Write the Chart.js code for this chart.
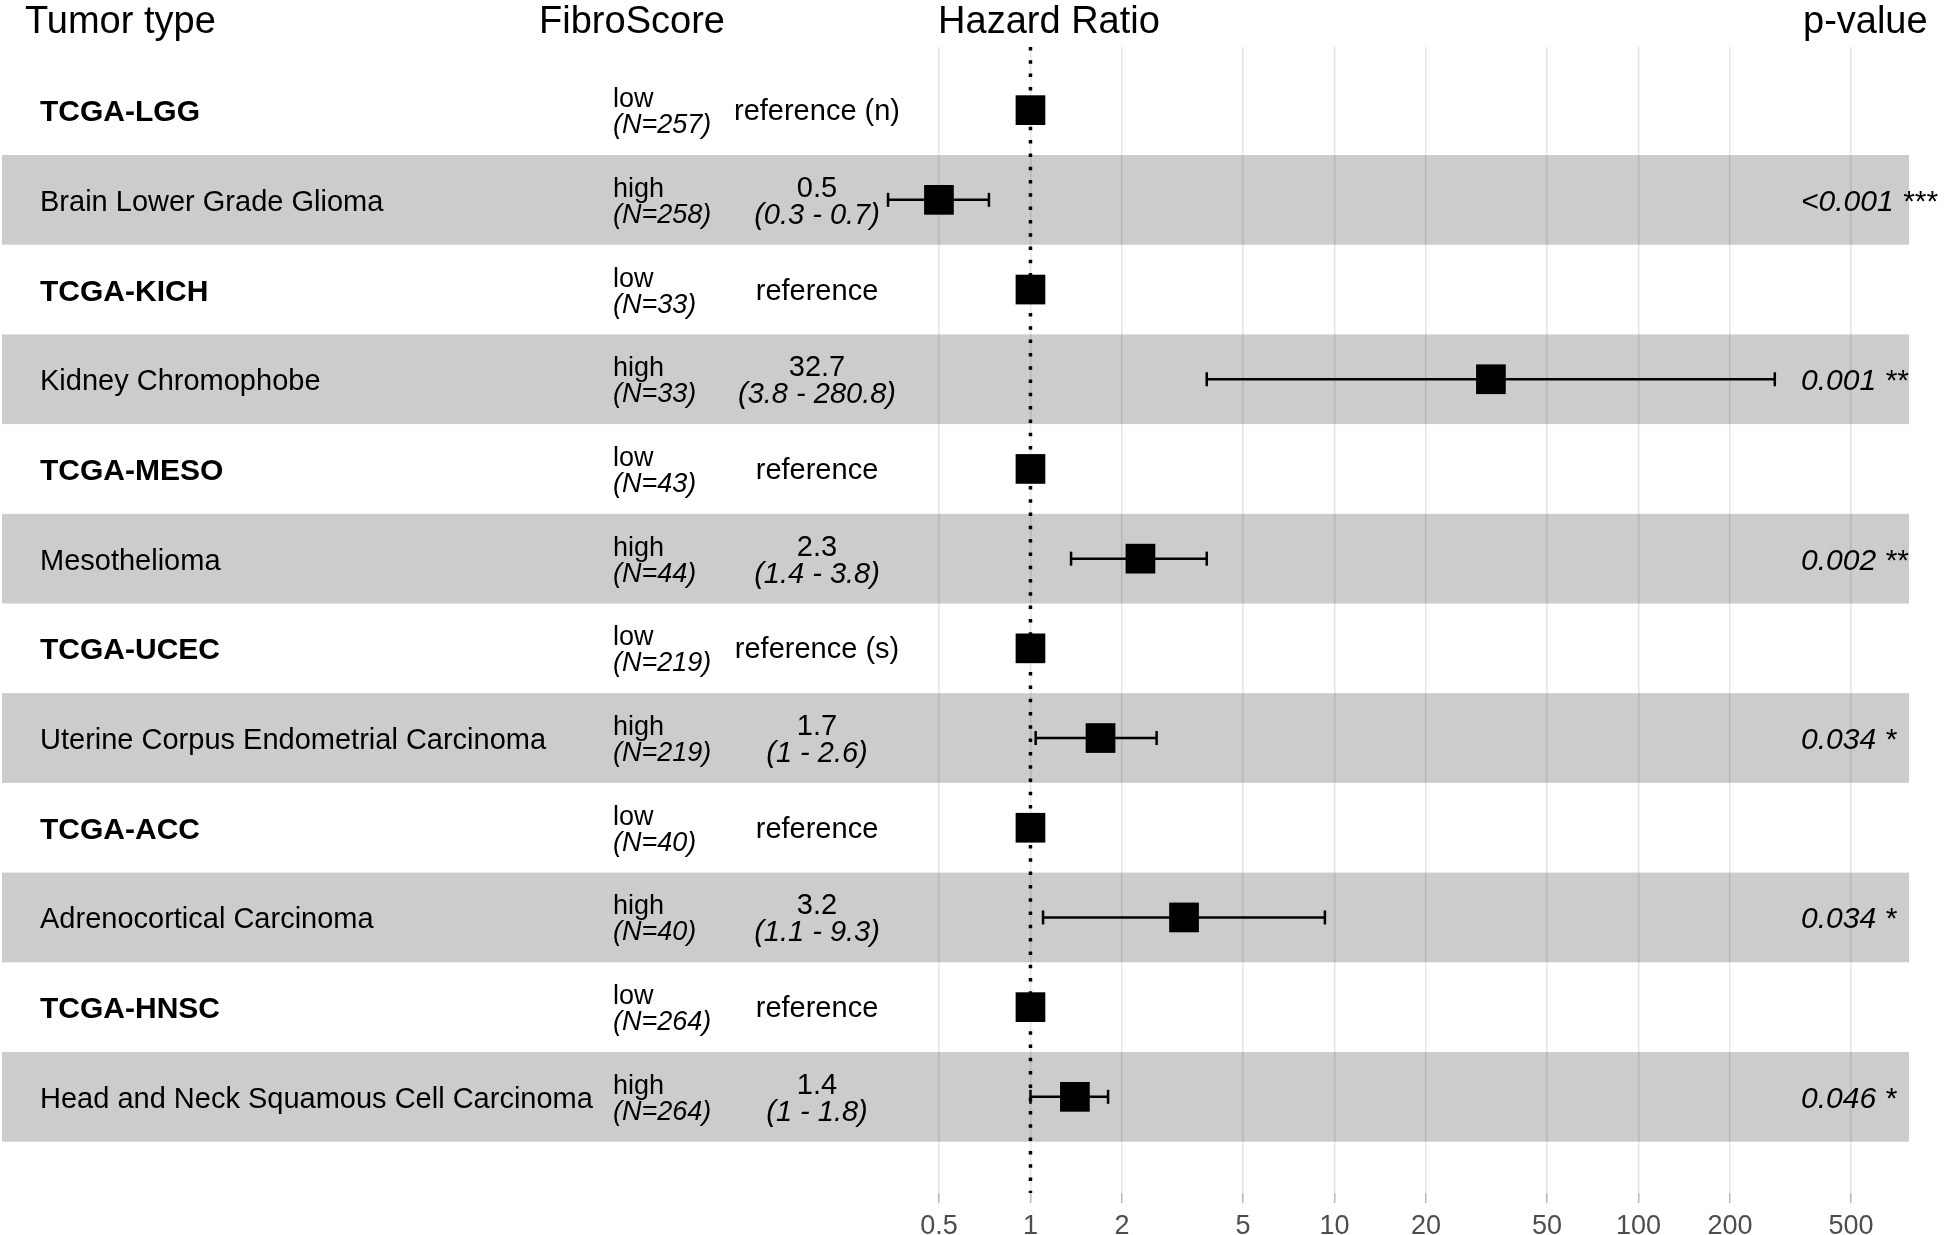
<!DOCTYPE html>
<html>
    <head>
        <meta charset="UTF-8">
        <title>Hazard Ratio forest plot</title>
        <script src="https://cdn.jsdelivr.net/npm/chart.js"></script>
        <style>
            html, body { margin: 0; padding: 0; background: #fff; }
            canvas { display: block; }
        </style>
    </head>
    <body>
        <canvas id="forest" width="1946" height="1235"></canvas>
        <script>
        // rows, top to bottom
        const rowLabels = ['TCGA-LGG', 'Brain Lower Grade Glioma', 'TCGA-KICH', 'Kidney Chromophobe',
            'TCGA-MESO', 'Mesothelioma', 'TCGA-UCEC', 'Uterine Corpus Endometrial Carcinoma',
            'TCGA-ACC', 'Adrenocortical Carcinoma', 'TCGA-HNSC', 'Head and Neck Squamous Cell Carcinoma'];
        const groups = ['low', 'high', 'low', 'high', 'low', 'high', 'low', 'high', 'low', 'high', 'low', 'high'];
        const nCounts = [257, 258, 33, 33, 43, 44, 219, 219, 40, 40, 264, 264];
        const hr = [1, 0.5, 1, 32.7, 1, 2.3, 1, 1.7, 1, 3.2, 1, 1.4];
        const ciLow = [null, 0.34, null, 3.8, null, 1.36, null, 1.04, null, 1.1, null, 1.0];
        const ciHigh = [null, 0.73, null, 280.8, null, 3.8, null, 2.6, null, 9.3, null, 1.8];
        const hrLabels = ['reference (n)', '0.5', 'reference', '32.7', 'reference', '2.3',
            'reference (s)', '1.7', 'reference', '3.2', 'reference', '1.4'];
        const ciLabels = ['', '(0.3 - 0.7)', '', '(3.8 - 280.8)', '', '(1.4 - 3.8)',
            '', '(1 - 2.6)', '', '(1.1 - 9.3)', '', '(1 - 1.8)'];
        const pLabels = ['', '<0.001 ***', '', '0.001 **', '', '0.002 **', '', '0.034 *', '', '0.034 *', '', '0.046 *'];
        const tickVals = [0.5, 1, 2, 5, 10, 20, 50, 100, 200, 500];
        const headers = ['Tumor type', 'FibroScore', 'Hazard Ratio', 'p-value'];

        const FONT = "'Liberation Sans', Arial, Helvetica, sans-serif";
        const yMin = 0.296, yMax = 13.072;

        const datasets = [];
        // squares
        datasets.push({
            type: 'scatter',
            data: hr.map((v, i) => ({x: v, y: i + 1})),
            pointStyle: 'rect',
            pointRadius: 21,
            backgroundColor: '#000',
            borderColor: '#000',
            borderWidth: 0,
            order: 1
        });
        // confidence intervals with caps
        hr.forEach((v, i) => {
            if (ciLow[i] === null) return;
            datasets.push({
                type: 'line',
                data: [{x: ciLow[i], y: i + 1}, {x: ciHigh[i], y: i + 1}],
                borderColor: '#000',
                borderWidth: 2.5,
                pointStyle: 'line',
                rotation: 90,
                pointRadius: 7,
                pointBorderWidth: 2.5,
                pointBorderColor: '#000',
                order: 2
            });
        });
        // reference line at HR = 1
        datasets.push({
            type: 'line',
            data: [{x: 1, y: yMin}, {x: 1, y: yMax}],
            borderColor: '#000',
            borderWidth: 3.5,
            borderDash: [3.5, 9.8],
            pointRadius: 0,
            order: 3
        });

        const bandPlugin = {
            id: 'bands',
            beforeDraw(chart) {
                const {ctx, chartArea, scales} = chart;
                ctx.save();
                ctx.fillStyle = '#cccccc';
                rowLabels.forEach((_, i) => {
                    if (i % 2 === 0) return;
                    const y0 = scales.y.getPixelForValue(i + 0.5);
                    const y1 = scales.y.getPixelForValue(i + 1.5);
                    ctx.fillRect(chartArea.left, y0, chartArea.right - chartArea.left, y1 - y0);
                });
                ctx.restore();
            }
        };

        const textPlugin = {
            id: 'tableText',
            afterDraw(chart) {
                const {ctx, scales} = chart;
                ctx.save();
                ctx.fillStyle = '#000';
                ctx.textBaseline = 'alphabetic';
                // headers
                ctx.font = '38px ' + FONT;
                ctx.textAlign = 'left';
                ctx.fillText(headers[0], 25, 33);
                ctx.textAlign = 'center';
                ctx.fillText(headers[1], 632, 33);
                ctx.fillText(headers[2], 1049, 33);
                ctx.textAlign = 'left';
                ctx.fillText(headers[3], 1803, 33);

                rowLabels.forEach((lab, i) => {
                    const yc = scales.y.getPixelForValue(i + 1);
                    // tumor type
                    ctx.textAlign = 'left';
                    ctx.font = (i % 2 === 0 ? 'bold 30px ' : '29px ') + FONT;
                    ctx.fillText(lab, 40, yc + 11);
                    // fibroscore group
                    ctx.font = '27px ' + FONT;
                    ctx.fillText(groups[i], 613, yc - 3);
                    ctx.font = 'italic 27px ' + FONT;
                    ctx.fillText('(N=' + nCounts[i] + ')', 613, yc + 23);
                    // hazard ratio text
                    ctx.textAlign = 'center';
                    if (ciLabels[i]) {
                        ctx.font = '29px ' + FONT;
                        ctx.fillText(hrLabels[i], 817, yc - 3);
                        ctx.font = 'italic 29px ' + FONT;
                        ctx.fillText(ciLabels[i], 817, yc + 24);
                    } else {
                        ctx.font = '29px ' + FONT;
                        ctx.fillText(hrLabels[i], 817, yc + 10);
                    }
                    // p-value
                    if (pLabels[i]) {
                        ctx.textAlign = 'left';
                        ctx.font = 'italic 30px ' + FONT;
                        ctx.fillText(pLabels[i], 1801, yc + 11);
                    }
                });
                ctx.restore();
            }
        };

        new Chart(document.getElementById('forest'), {
            data: {datasets: datasets},
            options: {
                responsive: false,
                animation: false,
                devicePixelRatio: 1,
                events: [],
                layout: {autoPadding: false, padding: {left: 2, right: 37, top: 47, bottom: 0}},
                plugins: {legend: {display: false}, tooltip: {enabled: false}},
                scales: {
                    x: {
                        type: 'logarithmic',
                        position: 'bottom',
                        min: 4.14e-4,
                        max: 775.9,
                        afterBuildTicks(axis) {
                            axis.ticks = tickVals.map(v => ({value: v}));
                        },
                        afterFit(axis) {
                            axis.height = 42;
                            axis.paddingLeft = 0;
                            axis.paddingRight = 0;
                        },
                        border: {display: false},
                        grid: {
                            color: 'rgba(0,0,0,0.1)',
                            lineWidth: 1.5,
                            tickColor: '#b8b8b8',
                            tickLength: 10
                        },
                        ticks: {
                            autoSkip: false,
                            maxRotation: 0,
                            padding: 10,
                            color: '#4d4d4d',
                            font: {family: FONT, size: 27, lineHeight: 1},
                            callback: v => String(v)
                        }
                    },
                    y: {
                        type: 'linear',
                        display: false,
                        reverse: true,
                        min: yMin,
                        max: yMax
                    }
                }
            },
            plugins: [bandPlugin, textPlugin]
        });
        </script>
    </body>
</html>
